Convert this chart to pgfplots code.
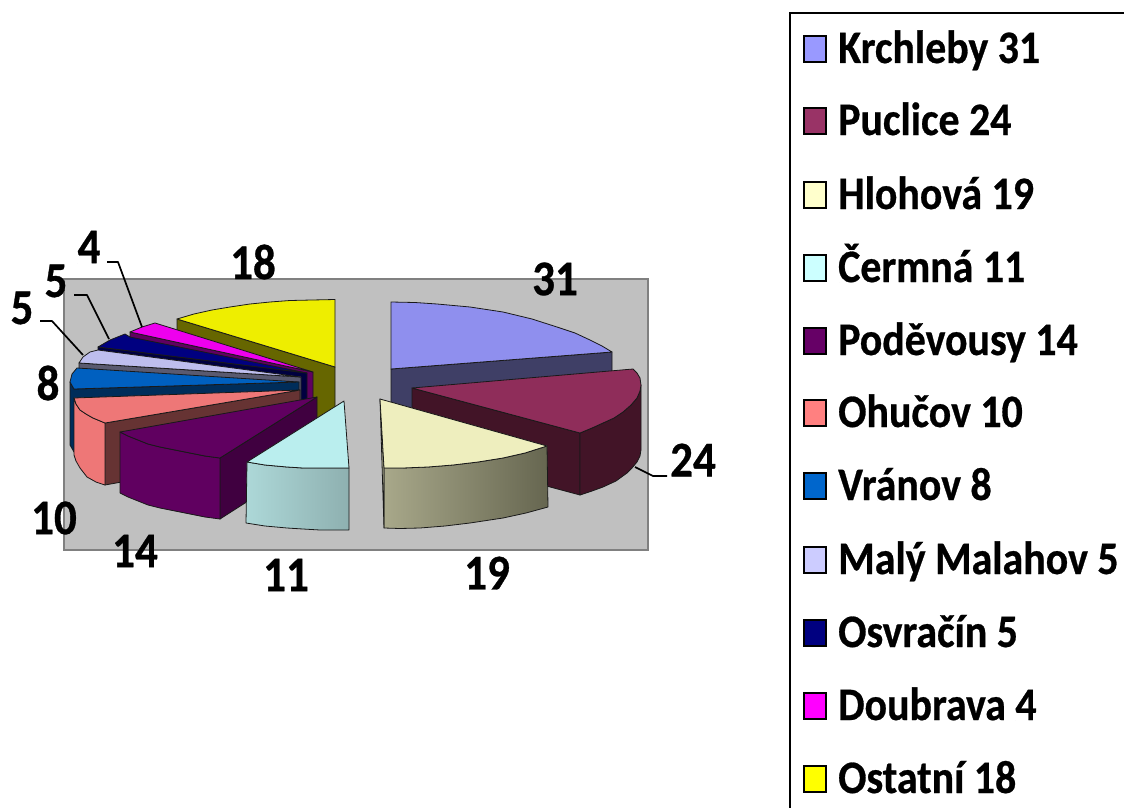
\documentclass[border=0pt]{standalone}
\usepackage{fontspec}
\setmainfont{Carlito}[FakeStretch=0.9,BoldFeatures={FakeBold=0.6}]
\usepackage{pgfplots}
\pgfplotsset{compat=1.18}
\definecolor{kT}{HTML}{8F8FEE}\definecolor{kS}{HTML}{3F3F66}\definecolor{kL}{HTML}{9999FF}
\definecolor{pT}{HTML}{8F2D5A}\definecolor{pS}{HTML}{421427}\definecolor{pL}{HTML}{993366}
\definecolor{hT}{HTML}{EEEEBE}\definecolor{hA}{HTML}{A8A88A}\definecolor{hB}{HTML}{666650}\definecolor{hL}{HTML}{FFFFCC}
\definecolor{cT}{HTML}{BAEEEE}\definecolor{cA}{HTML}{ADD8D8}\definecolor{cB}{HTML}{8EB0B0}\definecolor{cL}{HTML}{CCFFFF}
\definecolor{dT}{HTML}{600060}\definecolor{dS}{HTML}{400040}\definecolor{dL}{HTML}{660066}
\definecolor{oT}{HTML}{EE7777}\definecolor{oS}{HTML}{663333}\definecolor{oL}{HTML}{FF8080}
\definecolor{vT}{HTML}{0060C0}\definecolor{vS}{HTML}{002D5A}\definecolor{vL}{HTML}{0066CC}
\definecolor{mT}{HTML}{BEBEEE}\definecolor{mS}{HTML}{5A5A70}\definecolor{mL}{HTML}{CCCCFF}
\definecolor{nT}{HTML}{000080}\definecolor{nS}{HTML}{000040}
\definecolor{gT}{HTML}{EE00EE}\definecolor{gS}{HTML}{600060}\definecolor{gL}{HTML}{FF00FF}
\definecolor{yT}{HTML}{EEEE00}\definecolor{yS}{HTML}{666600}\definecolor{yL}{HTML}{FFFF00}
\tikzset{
 e/.style={draw=black!90,line width=0.8pt,line join=round},
 sw/.style={fill=#1,draw=black,line width=2pt,line join=miter},
 lead/.style={draw=black,line width=1.7pt,line join=round},
 dl/.style={font=\fontsize{50}{50}\selectfont\bfseries,anchor=center,inner sep=0pt},
 lg/.style={font=\fontsize{46.5}{46.5}\selectfont\bfseries,anchor=base west,inner sep=0pt},
}
\begin{document}
\begin{tikzpicture}
\useasboundingbox (0,0) rectangle (1124pt,808pt);
\begin{axis}[
 at={(0,0)},anchor=south west,
 width=1124pt,height=808pt,scale only axis,
 xmin=0,xmax=1124,ymin=0,ymax=808,y dir=reverse,
 axis lines=none,clip=true,
]
% plot area
\addplot[fill={rgb,255:red,192;green,192;blue,192},draw={rgb,255:red,128;green,128;blue,128},line width=2.5pt] coordinates {(64,279)(648,279)(648,550)(64,550)} -- cycle;
% Ostatni 18
\addplot[e,fill=yS] coordinates {(177,319)(335,367)(335,427)(177,379)} -- cycle;
\addplot[e,fill=yT] coordinates {(335,367)(335,299.5)(312,300)(290,300.5)(270,302)(250,304)(230,307)(212,310)(194,314)(177,319)} -- cycle;
% Doubrava 4
\addplot[e,fill=gS] coordinates {(130,332)(313,372)(313,432)(130,392)} -- cycle;
\addplot[e,fill=gT] coordinates {(313,372)(130,332)(142,327)(155,323)} -- cycle;
% Osvracin 5
\addplot[e,fill=nS] coordinates {(98,347)(307,373)(307,433)(98,407)} -- cycle;
\addplot[e,fill=nT] coordinates {(307,373)(98,347)(110,340)(125,334)(130,337)} -- cycle;
% Maly Malahov 5
\addplot[e,fill=mS] coordinates {(79,363)(301,377)(301,437)(79,423)} -- cycle;
\addplot[e,fill=mT] coordinates {(301,377)(79,363)(83,357)(90,352)(98,350)} -- cycle;
% Vranov 8
\addplot[e,fill=vS] coordinates {(70,382)(74,389)(299,382)(299,442)(74,452)(70,445)} -- cycle;
\addplot[e,fill=vT] coordinates {(299,382)(77,368)(72,374)(70,382)(74,389)} -- cycle;
% Ohucov 10
\addplot[e,fill=oS] coordinates {(105,423)(300,390)(300,450)(105,485)} -- cycle;
\addplot[e,fill=oT] coordinates {(74,398)(76,404)(80,410)(86,414)(93,418)(105,423)(105,485)(96,482)(87,477)(80,468)(76,461)(74,455)} -- cycle;
\addplot[e,fill=oT] coordinates {(300,390)(74,398)(76,404)(80,410)(86,414)(93,418)(105,423)} -- cycle;
% Podevousy 14
\addplot[e,fill=dS] coordinates {(220,458)(317,397)(317,457)(220,519)} -- cycle;
\addplot[e,fill=dT] coordinates {(120,432)(128,436)(138,440)(148,444)(160,447)(175,450)(190,453)(205,456)(220,458)(220,519)(205,517)(190,514)(175,511)(160,508)(148,505)(138,501)(128,497)(120,493)} -- cycle;
\addplot[e,fill=dT] coordinates {(317,397)(120,432)(128,436)(138,440)(148,444)(160,447)(175,450)(190,453)(205,456)(220,458)} -- cycle;
% Cermna 11
\addplot[e,left color=cA,right color=cB] coordinates {(247,462)(265,465)(287,467)(303,468)(320,468)(349,468)(349,530)(320,530)(303,529)(287,528)(265,526)(246,523)} -- cycle;
\addplot[e,fill=cT] coordinates {(344,401)(247,462)(265,465)(287,467)(303,468)(320,468)(349,468)} -- cycle;
% Krchleby 31
\addplot[e,fill=kS] coordinates {(391,369)(612,352)(612,412)(391,429)} -- cycle;
\addplot[e,fill=kT] coordinates {(391,369)(391,302)(415,302.5)(437,304)(470,307)(503,312)(532,319)(557,327)(575,333)(590,340)(602,346)(612,352)} -- cycle;
% Puclice 24
\addplot[e,fill=pS] coordinates {(412,388)(580,433)(580,495)(412,450)} -- cycle;
\addplot[e,fill=pS] coordinates {(580,433)(592,428)(603,423)(614,418)(623,412)(631,405)(637,398)(640,391)(641,385)(641,450)(640,456)(637,462)(632,468)(627,473)(616,481)(603,487)(592,491)(580,495)} -- cycle;
\addplot[e,fill=pT] coordinates {(412,388)(633,369)(637,373)(640,378)(641,385)(640,391)(637,398)(631,405)(623,412)(614,418)(603,423)(592,428)(580,433)} -- cycle;
% Hlohova 19
\addplot[e,left color=hA,right color=hB] coordinates {(384,468)(403,468)(428,467)(453,465)(478,462)(503,458)(525,453)(547,446)(548,507)(526,513)(503,518)(470,523)(445,526)(420,528)(400,528.5)(384,528)} -- cycle;
\addplot[e,fill=hA] coordinates {(380,399)(384,468)(384,528)} -- cycle;
\addplot[e,fill=hT] coordinates {(380,399)(547,446)(525,453)(503,458)(478,462)(453,465)(428,467)(403,468)(384,468)} -- cycle;
% leader lines
\addplot[lead] coordinates {(107,262)(118,262)(142,327)};
\addplot[lead] coordinates {(74,295)(87,295)(109,339)};
\addplot[lead] coordinates {(40,321)(52,321)(83,355)};
\addplot[lead] coordinates {(635,467)(653,476)(667,476)};
% legend box
\addplot[draw=black,line width=1.5pt] coordinates {(790,808)(790,13)(1124,13)};
% legend swatches
\addplot[sw=kL] coordinates {(804,36)(826,36)(826,62)(804,62)} -- cycle;
\addplot[sw=pL] coordinates {(804,108)(826,108)(826,134)(804,134)} -- cycle;
\addplot[sw=hL] coordinates {(804,182)(826,182)(826,208)(804,208)} -- cycle;
\addplot[sw=cL] coordinates {(804,255)(826,255)(826,281)(804,281)} -- cycle;
\addplot[sw=dL] coordinates {(804,328)(826,328)(826,354)(804,354)} -- cycle;
\addplot[sw=oL] coordinates {(804,400)(826,400)(826,426)(804,426)} -- cycle;
\addplot[sw=vL] coordinates {(804,473)(826,473)(826,499)(804,499)} -- cycle;
\addplot[sw=mL] coordinates {(804,547)(826,547)(826,573)(804,573)} -- cycle;
\addplot[sw=nT] coordinates {(804,620)(826,620)(826,646)(804,646)} -- cycle;
\addplot[sw=gL] coordinates {(804,693)(826,693)(826,719)(804,719)} -- cycle;
\addplot[sw=yL] coordinates {(804,766)(826,766)(826,792)(804,792)} -- cycle;
% data labels
\node[dl] at (axis cs:253,262) {18};
\node[dl] at (axis cs:555,279) {31};
\node[dl] at (axis cs:693,460) {24};
\node[dl] at (axis cs:487,573) {19};
\node[dl] at (axis cs:286,575) {11};
\node[dl] at (axis cs:135,551) {14};
\node[dl] at (axis cs:54,518) {10};
\node[dl] at (axis cs:48,383) {8};
\node[dl] at (axis cs:22,308) {5};
\node[dl] at (axis cs:56,281) {5};
\node[dl] at (axis cs:89,247) {4};
% legend text
\node[lg] at (axis cs:838,63) {Krchleby 31};
\node[lg] at (axis cs:838,135) {Puclice 24};
\node[lg] at (axis cs:838,209) {Hlohová 19};
\node[lg] at (axis cs:838,282) {Čermná 11};
\node[lg] at (axis cs:838,355) {Poděvousy 14};
\node[lg] at (axis cs:838,427) {Ohučov 10};
\node[lg] at (axis cs:838,500) {Vránov 8};
\node[lg] at (axis cs:838,574) {Malý Malahov 5};
\node[lg] at (axis cs:838,647) {Osvračín 5};
\node[lg] at (axis cs:838,720) {Doubrava 4};
\node[lg] at (axis cs:838,793) {Ostatní 18};
\end{axis}
\end{tikzpicture}
\end{document}
